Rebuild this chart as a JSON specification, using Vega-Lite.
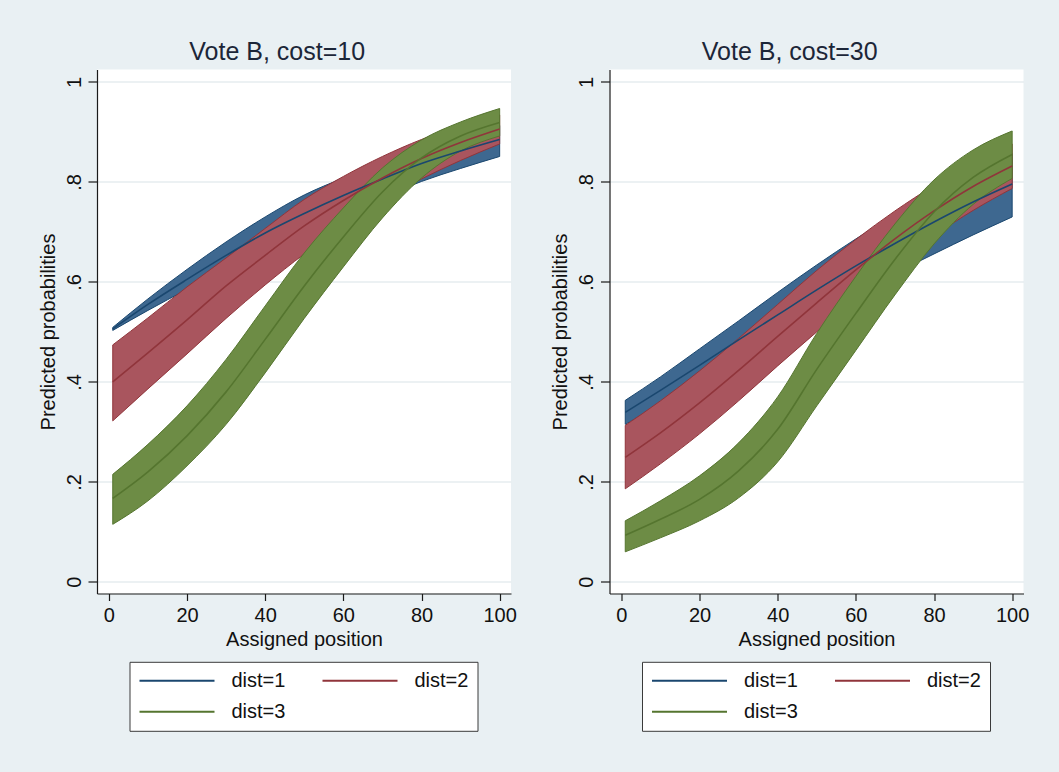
{
  "$schema": "https://vega.github.io/schema/vega-lite/v6.json",
  "background": "#e9f0f3",
  "padding": {"left": 38, "top": 39.5, "right": 32, "bottom": 40},
  "spacing": 33.5,
  "data": {"values": [
    {"panel": "cost=10", "dist": "dist=1", "x": 1, "mean": 0.506, "lo": 0.503, "hi": 0.509},
    {"panel": "cost=10", "dist": "dist=1", "x": 10, "mean": 0.555, "lo": 0.543, "hi": 0.566},
    {"panel": "cost=10", "dist": "dist=1", "x": 20, "mean": 0.605, "lo": 0.585, "hi": 0.625},
    {"panel": "cost=10", "dist": "dist=1", "x": 30, "mean": 0.653, "lo": 0.625, "hi": 0.680},
    {"panel": "cost=10", "dist": "dist=1", "x": 40, "mean": 0.698, "lo": 0.663, "hi": 0.730},
    {"panel": "cost=10", "dist": "dist=1", "x": 50, "mean": 0.737, "lo": 0.700, "hi": 0.774},
    {"panel": "cost=10", "dist": "dist=1", "x": 60, "mean": 0.773, "lo": 0.736, "hi": 0.808},
    {"panel": "cost=10", "dist": "dist=1", "x": 70, "mean": 0.806, "lo": 0.769, "hi": 0.840},
    {"panel": "cost=10", "dist": "dist=1", "x": 80, "mean": 0.837, "lo": 0.801, "hi": 0.868},
    {"panel": "cost=10", "dist": "dist=1", "x": 90, "mean": 0.862, "lo": 0.827, "hi": 0.893},
    {"panel": "cost=10", "dist": "dist=1", "x": 100, "mean": 0.885, "lo": 0.851, "hi": 0.913},
    {"panel": "cost=10", "dist": "dist=2", "x": 1, "mean": 0.400, "lo": 0.322, "hi": 0.474},
    {"panel": "cost=10", "dist": "dist=2", "x": 10, "mean": 0.458, "lo": 0.386, "hi": 0.528},
    {"panel": "cost=10", "dist": "dist=2", "x": 20, "mean": 0.524, "lo": 0.456, "hi": 0.590},
    {"panel": "cost=10", "dist": "dist=2", "x": 30, "mean": 0.592, "lo": 0.527, "hi": 0.648},
    {"panel": "cost=10", "dist": "dist=2", "x": 40, "mean": 0.653, "lo": 0.594, "hi": 0.707},
    {"panel": "cost=10", "dist": "dist=2", "x": 50, "mean": 0.712, "lo": 0.656, "hi": 0.765},
    {"panel": "cost=10", "dist": "dist=2", "x": 60, "mean": 0.763, "lo": 0.712, "hi": 0.811},
    {"panel": "cost=10", "dist": "dist=2", "x": 70, "mean": 0.808, "lo": 0.763, "hi": 0.851},
    {"panel": "cost=10", "dist": "dist=2", "x": 80, "mean": 0.847, "lo": 0.806, "hi": 0.885},
    {"panel": "cost=10", "dist": "dist=2", "x": 90, "mean": 0.879, "lo": 0.843, "hi": 0.912},
    {"panel": "cost=10", "dist": "dist=2", "x": 100, "mean": 0.906, "lo": 0.876, "hi": 0.934},
    {"panel": "cost=10", "dist": "dist=3", "x": 1, "mean": 0.167, "lo": 0.115, "hi": 0.215},
    {"panel": "cost=10", "dist": "dist=3", "x": 10, "mean": 0.220, "lo": 0.162, "hi": 0.275},
    {"panel": "cost=10", "dist": "dist=3", "x": 20, "mean": 0.292, "lo": 0.232, "hi": 0.352},
    {"panel": "cost=10", "dist": "dist=3", "x": 30, "mean": 0.380, "lo": 0.315, "hi": 0.445},
    {"panel": "cost=10", "dist": "dist=3", "x": 40, "mean": 0.485, "lo": 0.418, "hi": 0.552},
    {"panel": "cost=10", "dist": "dist=3", "x": 50, "mean": 0.592, "lo": 0.527, "hi": 0.658},
    {"panel": "cost=10", "dist": "dist=3", "x": 60, "mean": 0.690, "lo": 0.630, "hi": 0.748},
    {"panel": "cost=10", "dist": "dist=3", "x": 70, "mean": 0.780, "lo": 0.728, "hi": 0.828},
    {"panel": "cost=10", "dist": "dist=3", "x": 80, "mean": 0.848, "lo": 0.808, "hi": 0.884},
    {"panel": "cost=10", "dist": "dist=3", "x": 90, "mean": 0.892, "lo": 0.862, "hi": 0.920},
    {"panel": "cost=10", "dist": "dist=3", "x": 100, "mean": 0.919, "lo": 0.892, "hi": 0.947},
    {"panel": "cost=30", "dist": "dist=1", "x": 1, "mean": 0.339, "lo": 0.315, "hi": 0.363},
    {"panel": "cost=30", "dist": "dist=1", "x": 10, "mean": 0.383, "lo": 0.356, "hi": 0.410},
    {"panel": "cost=30", "dist": "dist=1", "x": 20, "mean": 0.433, "lo": 0.401, "hi": 0.466},
    {"panel": "cost=30", "dist": "dist=1", "x": 30, "mean": 0.484, "lo": 0.446, "hi": 0.522},
    {"panel": "cost=30", "dist": "dist=1", "x": 40, "mean": 0.534, "lo": 0.490, "hi": 0.579},
    {"panel": "cost=30", "dist": "dist=1", "x": 50, "mean": 0.584, "lo": 0.533, "hi": 0.634},
    {"panel": "cost=30", "dist": "dist=1", "x": 60, "mean": 0.632, "lo": 0.576, "hi": 0.686},
    {"panel": "cost=30", "dist": "dist=1", "x": 70, "mean": 0.677, "lo": 0.617, "hi": 0.734},
    {"panel": "cost=30", "dist": "dist=1", "x": 80, "mean": 0.720, "lo": 0.656, "hi": 0.778},
    {"panel": "cost=30", "dist": "dist=1", "x": 90, "mean": 0.760, "lo": 0.694, "hi": 0.819},
    {"panel": "cost=30", "dist": "dist=1", "x": 100, "mean": 0.796, "lo": 0.730, "hi": 0.857},
    {"panel": "cost=30", "dist": "dist=2", "x": 1, "mean": 0.249, "lo": 0.186, "hi": 0.313},
    {"panel": "cost=30", "dist": "dist=2", "x": 10, "mean": 0.298, "lo": 0.236, "hi": 0.362},
    {"panel": "cost=30", "dist": "dist=2", "x": 20, "mean": 0.358, "lo": 0.296, "hi": 0.422},
    {"panel": "cost=30", "dist": "dist=2", "x": 30, "mean": 0.423, "lo": 0.362, "hi": 0.487},
    {"panel": "cost=30", "dist": "dist=2", "x": 40, "mean": 0.491, "lo": 0.432, "hi": 0.555},
    {"panel": "cost=30", "dist": "dist=2", "x": 50, "mean": 0.558, "lo": 0.500, "hi": 0.623},
    {"panel": "cost=30", "dist": "dist=2", "x": 60, "mean": 0.624, "lo": 0.568, "hi": 0.685},
    {"panel": "cost=30", "dist": "dist=2", "x": 70, "mean": 0.686, "lo": 0.633, "hi": 0.742},
    {"panel": "cost=30", "dist": "dist=2", "x": 80, "mean": 0.742, "lo": 0.692, "hi": 0.793},
    {"panel": "cost=30", "dist": "dist=2", "x": 90, "mean": 0.791, "lo": 0.743, "hi": 0.838},
    {"panel": "cost=30", "dist": "dist=2", "x": 100, "mean": 0.832, "lo": 0.787, "hi": 0.876},
    {"panel": "cost=30", "dist": "dist=3", "x": 1, "mean": 0.093, "lo": 0.060, "hi": 0.122},
    {"panel": "cost=30", "dist": "dist=3", "x": 10, "mean": 0.125, "lo": 0.088, "hi": 0.162},
    {"panel": "cost=30", "dist": "dist=3", "x": 20, "mean": 0.165, "lo": 0.122, "hi": 0.212},
    {"panel": "cost=30", "dist": "dist=3", "x": 30, "mean": 0.222, "lo": 0.168, "hi": 0.278},
    {"panel": "cost=30", "dist": "dist=3", "x": 40, "mean": 0.305, "lo": 0.240, "hi": 0.370},
    {"panel": "cost=30", "dist": "dist=3", "x": 50, "mean": 0.425, "lo": 0.352, "hi": 0.497},
    {"panel": "cost=30", "dist": "dist=3", "x": 60, "mean": 0.537, "lo": 0.463, "hi": 0.611},
    {"panel": "cost=30", "dist": "dist=3", "x": 70, "mean": 0.645, "lo": 0.574, "hi": 0.716},
    {"panel": "cost=30", "dist": "dist=3", "x": 80, "mean": 0.740, "lo": 0.676, "hi": 0.804},
    {"panel": "cost=30", "dist": "dist=3", "x": 90, "mean": 0.809, "lo": 0.755, "hi": 0.864},
    {"panel": "cost=30", "dist": "dist=3", "x": 100, "mean": 0.855, "lo": 0.807, "hi": 0.902}
  ]},
  "resolve": {
    "scale": {"fill": "independent", "stroke": "independent"},
    "legend": {"fill": "independent", "stroke": "independent"}
  },
  "hconcat": [
    {
      "width": 414,
      "height": 524,
      "title": {"text": "Vote B, cost=10"},
      "transform": [{"filter": "datum.panel == 'cost=10'"}],
      "encoding": {
        "x": {"field": "x", "type": "quantitative",
          "scale": {"domain": [-3.03, 102.9], "nice": false, "zero": false},
          "axis": {"title": "Assigned position", "values": [0, 20, 40, 60, 80, 100], "grid": false, "tickSize": 7, "labelPadding": 5, "titlePadding": 4, "labelFlush": false}},
        "y": {"field": "mean", "type": "quantitative",
          "scale": {"domain": [-0.0234, 1.025], "nice": false, "zero": false},
          "axis": {"title": "Predicted probabilities", "values": [0, 0.2, 0.4, 0.6, 0.8, 1], "tickSize": 9, "labelAngle": 270, "labelAlign": "center", "labelBaseline": "bottom", "labelPadding": 4, "titlePadding": 6,
            "labelExpr": "datum.value == 0 ? '0' : datum.value == 1 ? '1' : replace(format(datum.value, '.1f'), '0.', '.')"}},
        "stroke": {"field": "dist", "type": "nominal",
          "scale": {"domain": ["dist=1", "dist=2", "dist=3"], "range": ["#1a476f", "#90353b", "#55752f"]},
          "legend": {"orient": "none", "legendX": 32.5, "legendY": 592.3, "columns": 2, "direction": "horizontal", "title": null}}
      },
      "layer": [
        {
          "mark": {"type": "area", "interpolate": "monotone", "strokeWidth": 1},
          "encoding": {
            "y": {"field": "lo", "type": "quantitative"},
            "y2": {"field": "hi"},
            "fill": {"field": "dist", "type": "nominal",
              "scale": {"range": ["#3e6890", "#a9555e", "#6d8c45"]}, "legend": null}
          }
        },
        {
          "mark": {"type": "line", "interpolate": "monotone", "strokeWidth": 1.6}
        }
      ]
    },
    {
      "width": 414,
      "height": 524,
      "title": {"text": "Vote B, cost=30"},
      "transform": [{"filter": "datum.panel == 'cost=30'"}],
      "encoding": {
        "x": {"field": "x", "type": "quantitative",
          "scale": {"domain": [-3.03, 102.9], "nice": false, "zero": false},
          "axis": {"title": "Assigned position", "values": [0, 20, 40, 60, 80, 100], "grid": false, "tickSize": 7, "labelPadding": 5, "titlePadding": 4, "labelFlush": false}},
        "y": {"field": "mean", "type": "quantitative",
          "scale": {"domain": [-0.0234, 1.025], "nice": false, "zero": false},
          "axis": {"title": "Predicted probabilities", "values": [0, 0.2, 0.4, 0.6, 0.8, 1], "tickSize": 9, "labelAngle": 270, "labelAlign": "center", "labelBaseline": "bottom", "labelPadding": 4, "titlePadding": 6,
            "labelExpr": "datum.value == 0 ? '0' : datum.value == 1 ? '1' : replace(format(datum.value, '.1f'), '0.', '.')"}},
        "stroke": {"field": "dist", "type": "nominal",
          "scale": {"domain": ["dist=1", "dist=2", "dist=3"], "range": ["#1a476f", "#90353b", "#55752f"]},
          "legend": {"orient": "none", "legendX": 32.5, "legendY": 592.3, "columns": 2, "direction": "horizontal", "title": null}}
      },
      "layer": [
        {
          "mark": {"type": "area", "interpolate": "monotone", "strokeWidth": 1},
          "encoding": {
            "y": {"field": "lo", "type": "quantitative"},
            "y2": {"field": "hi"},
            "fill": {"field": "dist", "type": "nominal",
              "scale": {"range": ["#3e6890", "#a9555e", "#6d8c45"]}, "legend": null}
          }
        },
        {
          "mark": {"type": "line", "interpolate": "monotone", "strokeWidth": 1.6}
        }
      ]
    }
  ],
  "config": {
    "view": {"fill": "white", "stroke": null},
    "font": "Liberation Sans",
    "title": {"font": "Liberation Sans", "fontSize": 25, "fontWeight": "normal", "color": "#1c2638", "anchor": "middle", "frame": "bounds", "baseline": "alphabetic", "offset": 4.5},
    "axis": {
      "domainColor": "#1a1a1a", "domainWidth": 1.2, "tickColor": "#1a1a1a", "tickWidth": 1.2,
      "labelFont": "Liberation Sans", "labelFontSize": 20, "labelColor": "#111111",
      "titleFont": "Liberation Sans", "titleFontSize": 20, "titleFontWeight": "normal", "titleColor": "#111111",
      "gridColor": "#e6ecef", "gridWidth": 1.5
    },
    "legend": {
      "symbolType": "stroke", "symbolSize": 5625, "symbolStrokeWidth": 2, "clipHeight": 20,
      "labelFont": "Liberation Sans", "labelFontSize": 20, "labelColor": "#111111", "labelOffset": 16, "labelLimit": 300,
      "columnPadding": 36, "rowPadding": 11, "padding": 9,
      "fillColor": "white", "strokeColor": "#3a3a3a"
    }
  }
}
